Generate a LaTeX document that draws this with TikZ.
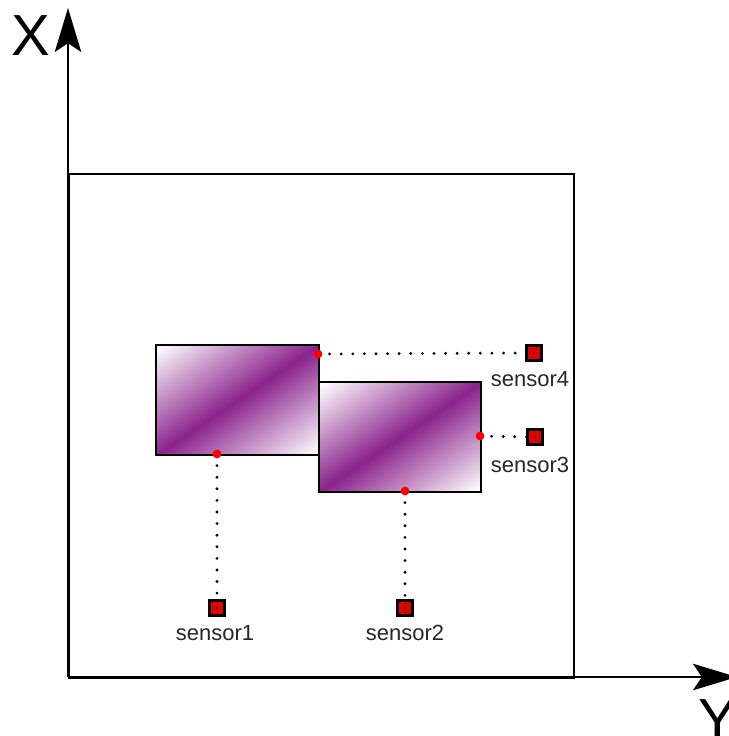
\documentclass[tikz,border=0pt]{standalone}
\usepackage{fontspec}
\setmainfont{Liberation Sans}
\usetikzlibrary{arrows.meta}
\definecolor{plum}{HTML}{7E0A80}
\definecolor{sred}{HTML}{E00000}
\pgfdeclarehorizontalshading{wpw}{100bp}{color(0bp)=(white); color(16bp)=(white); color(50bp)=(plum!90); color(84bp)=(white); color(100bp)=(white)}
\begin{document}
\begin{tikzpicture}[x=0.02cm,y=-0.02cm,
  axis/.style={line width=1.6pt,-{Stealth[length=25pt,width=15pt,inset=5pt]}},
  frame/.style={draw,line width=1.2pt},
  blockbox/.style={draw,line width=1.3pt,anchor=north west,inner sep=0pt,
     shading=wpw,shading angle=-56},
  sensorbox/.style={draw,line width=1.2pt,fill=sred,minimum size=8.5pt,inner sep=0pt},
  sdot/.style={circle,fill=black,inner sep=0pt,minimum size=1.3pt},
  reddot/.style={circle,fill=red,inner sep=0pt,minimum size=5pt},
  slabel/.style={font=\fontsize{12.5pt}{14pt}\selectfont,text=black!85},
  link/.style={line width=1.8pt,dash pattern=on 0pt off 6.6pt,line cap=round}]
\useasboundingbox (0,0) rectangle (728,736);
% axes
\coordinate (O) at (68,677);
\coordinate (Xtip) at (68,8);
\coordinate (Ytip) at (737,677);
\draw[axis] (O) -- (Xtip);
\draw[axis] (O) -- (Ytip);
\node[font=\fontsize{33pt}{36pt}\selectfont] (xl) at (31,36) {X};
\node[font=\fontsize{33pt}{36pt}\selectfont] (yl) at (718,720) {Y};
% frame
\node[frame,anchor=north west,minimum width=505*0.02cm,minimum height=504*0.02cm,inner sep=0pt] (fr) at (68,173) {};
% blocks
\node[blockbox,minimum width=163*0.02cm,minimum height=110*0.02cm] (b1) at (155,344) {};
\node[blockbox,minimum width=162*0.02cm,minimum height=110*0.02cm] (b2) at (318,381) {};
% sensors
\node[sensorbox] (s1) at (217,608) {};
\node[sensorbox] (s2) at (405,608) {};
\node[sensorbox] (s3) at (535,437) {};
\node[sensorbox] (s4) at (534,353) {};
\foreach \s in {s1,s2,s3,s4} \node[sdot] at (\s) {};
\node[slabel] (l1) at (215,633) {sensor1};
\node[slabel] (l2) at (405,633) {sensor2};
\node[slabel] (l3) at (530,465) {sensor3};
\node[slabel] (l4) at (530,379) {sensor4};
% contact points
\coordinate (p1) at (217,454);
\coordinate (p2) at (405,491);
\coordinate (p3) at (480,436);
\coordinate (p4) at (318,354);
\draw[link] (p1) -- (s1.north);
\draw[link] (p2) -- (s2.north);
\draw[link] (p3) -- (s3.west);
\draw[link] (p4) -- (s4.west);
\foreach \p in {p1,p2,p3,p4} \node[reddot] at (\p) {};
\end{tikzpicture}
\end{document}
